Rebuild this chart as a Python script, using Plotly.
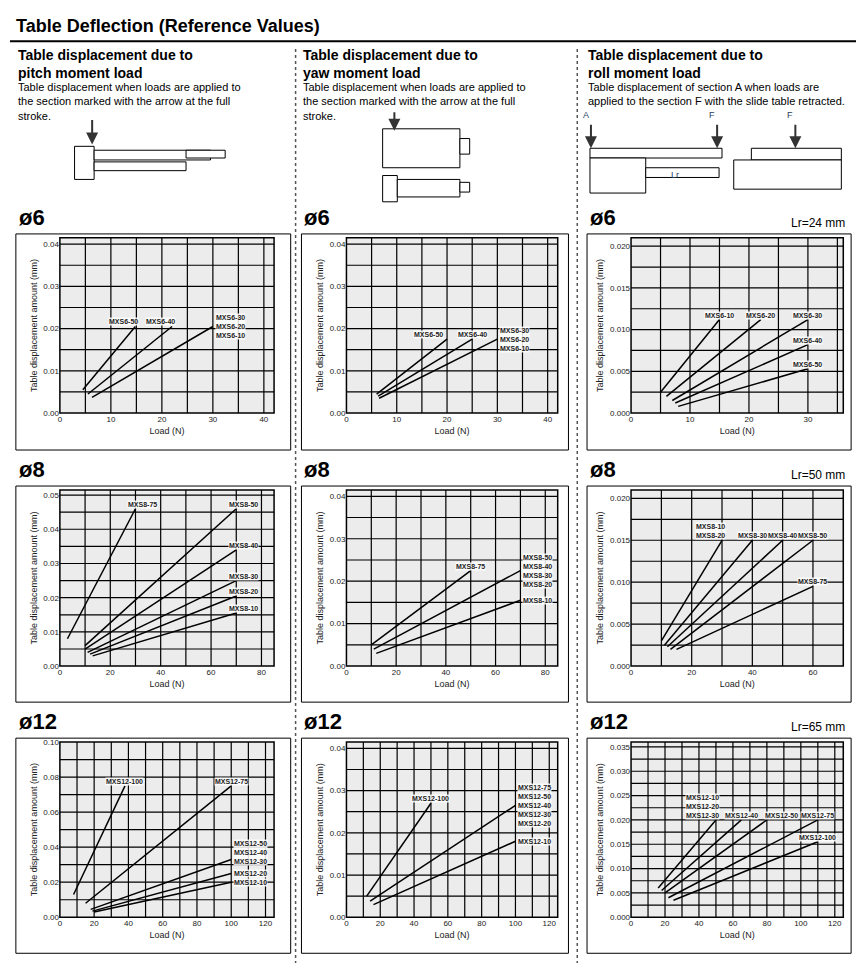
import plotly.graph_objects as go

W, H = 865, 977
# ---- data (endpoints of each straight line: [x0, x1], [y0, y1]) ----
p11_labels = ["MXS6-50", "MXS6-40", "MXS6-30<br>MXS6-20<br>MXS6-10"]
p11_x = [[4.5, 14.8], [5.5, 22], [6.3, 30]]
p11_y = [[0.0055, 0.0205], [0.0045, 0.0205], [0.0037, 0.0205]]

p12_labels = ["MXS6-50", "MXS6-40", "MXS6-30<br>MXS6-20<br>MXS6-10"]
p12_x = [[6, 20], [6.3, 25], [6.5, 30]]
p12_y = [[0.0045, 0.0175], [0.004, 0.0175], [0.0035, 0.0175]]

p13_labels = ["MXS6-10", "MXS6-20", "MXS6-30", "MXS6-40", "MXS6-50"]
p13_x = [[5, 15], [6, 22], [7, 30], [7.5, 30], [8, 30]]
p13_y = [[0.0025, 0.0112], [0.002, 0.0112], [0.0015, 0.0112], [0.0012, 0.0082], [0.0008, 0.0053]]

p21_labels = ["MXS8-75", "MXS8-50", "MXS8-40", "MXS8-30", "MXS8-20", "MXS8-10"]
p21_x = [[3, 30], [10, 70], [10, 70], [11, 70], [12, 70], [13, 70]]
p21_y = [[0.008, 0.046], [0.006, 0.046], [0.005, 0.034], [0.004, 0.025], [0.0035, 0.0205], [0.003, 0.0155]]

p22_labels = ["MXS8-75", "MXS8-50<br>MXS8-40<br>MXS8-30<br>MXS8-20", "MXS8-10"]
p22_x = [[10, 50], [11, 70], [12, 70]]
p22_y = [[0.005, 0.0225], [0.004, 0.0225], [0.003, 0.0155]]

p23_labels = ["MXS8-10<br>MXS8-20", "MXS8-30", "MXS8-40", "MXS8-50", "MXS8-75"]
p23_x = [[10, 30], [11, 40], [12, 50], [13, 60], [15, 60]]
p23_y = [[0.003, 0.015], [0.0025, 0.015], [0.0023, 0.015], [0.002, 0.015], [0.002, 0.0095]]

p31_labels = ["MXS12-100", "MXS12-75", "MXS12-50<br>MXS12-40<br>MXS12-30", "MXS12-20", "MXS12-10"]
p31_x = [[8, 38], [15, 100], [18, 100], [19, 100], [20, 100]]
p31_y = [[0.013, 0.075], [0.008, 0.075], [0.0045, 0.033], [0.0035, 0.025], [0.003, 0.02]]

p32_labels = ["MXS12-100", "MXS12-75<br>MXS12-50<br>MXS12-40<br>MXS12-30<br>MXS12-20", "MXS12-10"]
p32_x = [[12, 50], [14, 100], [16, 100]]
p32_y = [[0.005, 0.027], [0.0038, 0.0265], [0.003, 0.018]]

p33_labels = ["MXS12-10<br>MXS12-20<br>MXS12-30", "MXS12-40", "MXS12-50", "MXS12-75", "MXS12-100"]
p33_x = [[16, 50], [18, 65], [20, 80], [22, 110], [25, 110]]
p33_y = [[0.006, 0.02], [0.0055, 0.02], [0.005, 0.02], [0.004, 0.02], [0.0035, 0.0155]]

# axis setups
panels = [
    (p11_labels, p11_x, p11_y, 42, 10, 0.0415, 0.01, ".2f", ["br", "br", "l"]),
    (p12_labels, p12_x, p12_y, 42, 10, 0.0415, 0.01, ".2f", ["brl", "bc", "l"]),
    (p13_labels, p13_x, p13_y, 36, 10, 0.021, 0.005, ".3f", ["bc", "bc", "bc", "bc", "bc"]),
    (p21_labels, p21_x, p21_y, 85, 20, 0.0515, 0.01, ".2f", ["bl", "bl", "bl", "bl", "bl", "bl"]),
    (p22_labels, p22_x, p22_y, 85, 20, 0.0415, 0.01, ".2f", ["bc", "l", "l"]),
    (p23_labels, p23_x, p23_y, 70, 20, 0.021, 0.005, ".3f", ["br", "bc", "bc", "bc", "bc"]),
    (p31_labels, p31_x, p31_y, 125, 20, 0.1, 0.02, ".2f", ["bc", "bc", "lu", "l", "l"]),
    (p32_labels, p32_x, p32_y, 125, 20, 0.0415, 0.01, ".2f", ["bc", "l", "l"]),
    (p33_labels, p33_x, p33_y, 125, 20, 0.036, 0.005, ".3f", ["br", "bc", "blr", "bc", "bc"]),
]
diam = ["ø6", "ø8", "ø12"]
lr = [None, None, "Lr=24 mm", None, None, "Lr=50 mm", None, None, "Lr=65 mm"]

colx = [(51, 270), (344, 560), (635, 852)]
rowy = [(232, 412), (491, 672), (750, 930)]
boxx = [(6, 287), (298, 571), (590, 860)]
boxy = [(228, 450), (487, 709), (746, 967)]

fig = go.Figure()
ann = []
shapes = []
F = "Liberation Sans, Arial"

def px(x): return x / W
def py(y): return 1 - y / H

ANCH = {"l": ("left", "middle", 2, 0), "lu": ("left", "middle", 2, 7), "br": ("right", "bottom", 4, 0),
        "brl": ("right", "bottom", -3, 0), "bl": ("left", "bottom", -8, 0), "blr": ("left", "bottom", -3, 0),
        "bc": ("center", "bottom", 0, 0)}

for i, (labs, xs, ys, xmax, xt, ymax, yt, yf, anc) in enumerate(panels):
    r, c = divmod(i, 3)
    n = i + 1
    xa = "x" if n == 1 else f"x{n}"
    ya = "y" if n == 1 else f"y{n}"
    for lab, xx, yy, a in zip(labs, xs, ys, anc):
        fig.add_trace(go.Scatter(x=xx, y=yy, mode="lines", line=dict(color="black", width=1.5),
                                 xaxis=xa, yaxis=ya, showlegend=False, hoverinfo="skip"))
        xan, yan, xs_, ys_ = ANCH[a]
        ann.append(dict(x=xx[1], y=yy[1], xref=xa, yref=ya, text=f"<b>{lab}</b>", showarrow=False,
                        xanchor=xan, yanchor=yan, xshift=xs_, yshift=ys_, align="left",
                        font=dict(size=7, family=F, color="#222"),
                        bgcolor="rgba(255,255,255,0.85)", borderpad=0))
    x0, x1 = colx[c]; y0, y1 = rowy[r]
    dx = dict(domain=[px(x0), px(x1)], range=[0, xmax], tick0=0, dtick=xt, anchor=ya,
              showgrid=False, zeroline=False, showline=False, ticks="",
              tickfont=dict(size=8, family=F, color="#222"),
              title=dict(text="Load (N)", font=dict(size=9, family=F, color="#222"), standoff=4))
    dy = dict(domain=[py(y1), py(y0)], range=[0, ymax], tick0=0, dtick=yt, anchor=xa,
              showgrid=False, zeroline=False, showline=False, ticks="", tickformat=yf,
              tickfont=dict(size=8, family=F, color="#222"),
              title=dict(text="Table displacement amount (mm)", font=dict(size=9, family=F, color="#222"), standoff=4))
    fig.layout[("xaxis" if n == 1 else f"xaxis{n}")] = dx
    fig.layout[("yaxis" if n == 1 else f"yaxis{n}")] = dy
    shapes.append(dict(type="rect", xref="paper", yref="paper", x0=px(x0), x1=px(x1), y0=py(y1), y1=py(y0),
                       fillcolor="#ececec", line=dict(color="black", width=1.5), layer="below"))
    g = xt / 2
    v = g
    while v < xmax:
        shapes.append(dict(type="line", xref=xa, yref=f"{ya} domain", x0=v, x1=v, y0=0, y1=1,
                           line=dict(color="black", width=1.2), layer="below"))
        v += g
    g = yt / 2
    v = g
    while v < ymax - 1e-9:
        shapes.append(dict(type="line", xref=f"{xa} domain", yref=ya, x0=0, x1=1, y0=v, y1=v,
                           line=dict(color="black", width=1.2), layer="below"))
        v += g
    bx0, bx1 = boxx[c]; by0, by1 = boxy[r]
    shapes.append(dict(type="rect", xref="paper", yref="paper", x0=px(bx0), x1=px(bx1), y0=py(by1), y1=py(by0),
                       line=dict(color="black", width=1)))
    ann.append(dict(x=px(bx0 + 1), y=py(by0 - 2), xref="paper", yref="paper", text=f"<b>{diam[r]}</b>",
                    showarrow=False, xanchor="left", yanchor="bottom", font=dict(size=22, family=F, color="black")))
    if lr[i]:
        ann.append(dict(x=px(bx1 - 4), y=py(by0 - 2), xref="paper", yref="paper", text=lr[i],
                        showarrow=False, xanchor="right", yanchor="bottom", font=dict(size=12, family=F, color="black")))

# header
ann.append(dict(x=px(4), y=py(2), xref="paper", yref="paper", text="<b>Table Deflection (Reference Values)</b>",
                showarrow=False, xanchor="left", yanchor="top", font=dict(size=18, family=F, color="black")))
shapes.append(dict(type="line", xref="paper", yref="paper", x0=0, x1=1, y0=py(30), y1=py(30), line=dict(color="black", width=2)))
heads = [("Table displacement due to<br>pitch moment load",
          "Table displacement when loads are applied to<br>the section marked with the arrow at the full<br>stroke.", 6),
         ("Table displacement due to<br>yaw moment load",
          "Table displacement when loads are applied to<br>the section marked with the arrow at the full<br>stroke.", 298),
         ("Table displacement due to<br>roll moment load",
          "Table displacement of section A when loads are<br>applied to the section F with the slide table retracted.", 589)]
for t, s, x in heads:
    ann.append(dict(x=px(x), y=py(34), xref="paper", yref="paper", text=f"<b>{t}</b>", showarrow=False,
                    xanchor="left", yanchor="top", align="left", font=dict(size=14, family=F, color="black")))
    ann.append(dict(x=px(x), y=py(69), xref="paper", yref="paper", text=s, showarrow=False,
                    xanchor="left", yanchor="top", align="left", font=dict(size=11, family=F, color="black")))
for x in (292, 580):
    shapes.append(dict(type="line", xref="paper", yref="paper", x0=px(x), x1=px(x), y0=py(38), y1=0,
                       line=dict(color="#555", width=1.5, dash="dot")))

def rect(x0, y0, x1, y1):
    shapes.append(dict(type="rect", xref="paper", yref="paper", x0=px(x0), x1=px(x1), y0=py(y1), y1=py(y0),
                       line=dict(color="black", width=1), fillcolor="white"))
def arrow(x, y0, y1, text=""):
    ann.append(dict(x=px(x), y=py(y1), ax=0, ay=-(y1 - y0), xref="paper", yref="paper",
                    showarrow=True, arrowhead=2, arrowsize=1.2, arrowwidth=2, text="", arrowcolor="#333"))
    if text:
        ann.append(dict(x=px(x), y=py(y0 - 2), xref="paper", yref="paper", text=text, showarrow=False,
                        yanchor="bottom", font=dict(size=9, family=F)))
rect(66, 138, 86, 172); rect(86, 142, 205, 152); rect(86, 154, 180, 163); rect(180, 142, 220, 150)
arrow(84, 110, 136)
rect(381, 120, 460, 160); rect(460, 130, 470, 146); rect(381, 168, 396, 195); rect(396, 172, 460, 190); rect(460, 175, 470, 185)
arrow(393, 102, 122)
rect(593, 140, 728, 150); rect(593, 150, 650, 186); rect(650, 160, 725, 170)
rect(758, 140, 850, 152); rect(740, 152, 850, 182)
arrow(594, 115, 140, "A"); arrow(723, 115, 140, "F"); arrow(803, 115, 140, "F")
ann.append(dict(x=px(686), y=py(160), xref="paper", yref="paper", text="Lr", showarrow=False, font=dict(size=9, family=F)))

fig.update_layout(width=848, height=960, margin=dict(l=0, r=0, t=0, b=0), plot_bgcolor="white",
                  paper_bgcolor="white", annotations=ann, shapes=shapes)
fig.write_html("out.html")
